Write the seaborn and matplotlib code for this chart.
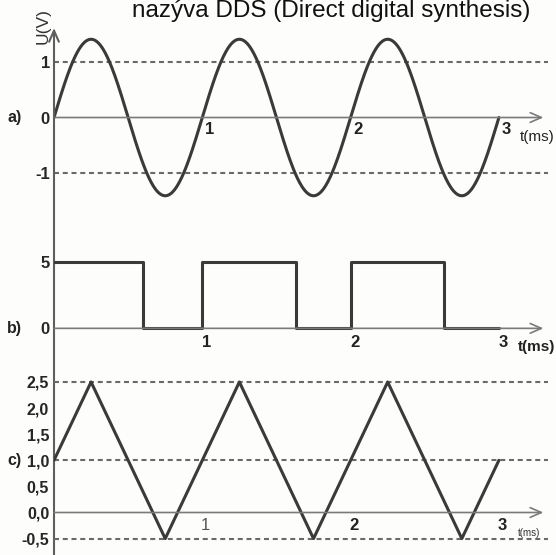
import numpy as np
import pandas as pd
import matplotlib
matplotlib.use("Agg")
import matplotlib.pyplot as plt
import seaborn as sns

sns.set_style("white")
plt.rcParams["font.family"] = ["Liberation Sans", "DejaVu Sans"]

# a) sine voltage: 1 ms period, peak about 1.41 V, shown from 0 to 3 ms
sine_amplitude = 1.41
sine_period_ms = 1.0
sine_duration_ms = 3.0
sine_ref_levels = [1, -1]
sine_yticks = [1, 0, -1]
sine_yticklabels = ["1", "0", "-1"]

# b) rectangular signal: switching instants (ms) and levels (V)
square_t = [0.0, 0.6, 1.0, 1.63, 2.0, 2.63, 3.0]
square_u = [5, 0, 5, 0, 5, 0, 0]
square_yticks = [5, 0]
square_yticklabels = ["5", "0"]

# c) triangle signal: corner points (ms, V)
tri_t = [0.0, 0.25, 0.75, 1.25, 1.75, 2.25, 2.75, 3.0]
tri_u = [1.0, 2.5, -0.5, 2.5, -0.5, 2.5, -0.5, 1.0]
tri_ref_levels = [2.5, 1.0, -0.5]
tri_yticks = [3.0, 2.5, 2.0, 1.5, 1.0, 0.5, 0.0, -0.5]
tri_yticklabels = ["", "2,5", "2,0", "1,5", "1,0", "0,5", "0,0", "-0,5"]

time_marks = [1, 2, 3]
time_unit = "t(ms)"

BG = "#fdfdfc"
WAVE = "#3a3a3a"
AXIS = "#5e5e5e"
ZERO = "#7a7a7a"
DASH = "#6a6a6a"

fig = plt.figure(figsize=(5.56, 5.55), dpi=100, facecolor=BG)

W, H = 556, 555
left = 54 / W
width = (548 - 54) / W
ax_a = fig.add_axes([left, (H - 232) / H, width, 207 / H])
ax_b = fig.add_axes([left, (H - 355) / H, width, 123 / H])
ax_c = fig.add_axes([left, 0.0, width, 200 / H])

XMAX = 3.331
ax_a.set_ylim(-2.063, 1.667)
ax_b.set_ylim(-2.02, 7.30)
ax_c.set_ylim(-0.814, 3.017)

arrow_style = "->,head_length=0.8,head_width=0.35"

for ax in (ax_a, ax_b, ax_c):
    ax.set_facecolor("none")
    ax.set_xlim(0, XMAX)
    for sp in ax.spines.values():
        sp.set_visible(False)
    # time axis with open arrowhead
    ax.annotate("", xy=(3.30, 0), xytext=(0, 0),
                arrowprops=dict(arrowstyle=arrow_style, color=ZERO, lw=1.2,
                                shrinkA=0, shrinkB=0, mutation_scale=10),
                annotation_clip=False)

# vertical voltage axis running through all three panels
ax_a.annotate("", xy=(0, 1.613), xytext=(0, -2.063),
              arrowprops=dict(arrowstyle=arrow_style, color=AXIS, lw=1.5,
                              shrinkA=0, shrinkB=0, mutation_scale=10),
              annotation_clip=False)
for ax in (ax_b, ax_c):
    lo, hi = ax.get_ylim()
    ax.plot([0, 0], [lo, hi], color=AXIS, lw=1.5, clip_on=False,
            solid_capstyle="butt")

dash_kw = dict(color=DASH, lw=1.5, dashes=(2.4, 1.8))

# ---- a) sine ----
t_sine = np.linspace(0, sine_duration_ms, 600)
df_sine = pd.DataFrame({"t": t_sine,
                        "u": sine_amplitude * np.sin(2 * np.pi * t_sine / sine_period_ms)})
for lvl in sine_ref_levels:
    ax_a.axhline(lvl, **dash_kw)
sns.lineplot(data=df_sine, x="t", y="u", ax=ax_a, color=WAVE, lw=2.2,
             estimator=None, sort=False)
ax_a.set_yticks(sine_yticks)
ax_a.set_yticklabels(sine_yticklabels, fontsize=12, fontweight="bold")
ax_a.tick_params(axis="y", length=0, pad=3)

# ---- b) square ----
df_sq = pd.DataFrame({"t": square_t, "u": square_u})
sns.lineplot(data=df_sq, x="t", y="u", ax=ax_b, color=WAVE, lw=2.2,
             drawstyle="steps-post", estimator=None)
ax_b.set_yticks(square_yticks)
ax_b.set_yticklabels(square_yticklabels, fontsize=12, fontweight="bold")
ax_b.tick_params(axis="y", length=0, pad=3)

# ---- c) triangle ----
df_tri = pd.DataFrame({"t": tri_t, "u": tri_u})
for lvl in tri_ref_levels:
    ax_c.axhline(lvl, **dash_kw)
sns.lineplot(data=df_tri, x="t", y="u", ax=ax_c, color=WAVE, lw=2.2,
             estimator=None, sort=False)
ax_c.set_yticks(tri_yticks)
ax_c.set_yticklabels(tri_yticklabels, fontsize=11.5, fontweight="bold")
ax_c.tick_params(axis="y", length=7, width=1.2, direction="inout",
                 color=AXIS, pad=0)

for ax in (ax_a, ax_b, ax_c):
    ax.set_xticks([])
    ax.set_xlabel("")
    ax.set_ylabel("")

# time labels next to the axis crossings
for m in time_marks:
    ax_a.text(m + 0.05, -0.225, str(m), fontsize=12, fontweight="bold",
              ha="center", va="center", color="#222")
    ax_b.text(m + 0.03, -1.04, str(m), fontsize=12, fontweight="bold",
              ha="center", va="center", color="#222")
    ax_c.text(m + 0.02, -0.24, str(m), fontsize=12,
              fontweight="bold" if m > 1 else "normal",
              ha="center", va="center", color="#222" if m > 1 else "#555")
ax_a.text(3.14, -0.35, time_unit, fontsize=11, ha="left", va="center", color="#222")
ax_b.text(3.13, -1.42, time_unit, fontsize=11, fontweight="bold",
          ha="left", va="center", color="#222")
ax_c.text(3.13, -0.39, time_unit, fontsize=7, ha="left", va="center", color="#333")

# panel letters
for ax, yv, lab in ((ax_a, 0, "a)"), (ax_b, 0, "b)"), (ax_c, 1.0, "c)")):
    ax.text(-0.265, yv, lab, fontsize=11.5, fontweight="bold", ha="center",
            va="center", color="#222", clip_on=False)

# axis name
fig.text(43 / W, (H - 26) / H, "U(V)", rotation=90, fontsize=12.5,
         ha="center", va="center", color="#333")

# running heading at the top of the page
fig.text(331 / W, (H - 17) / H, "nazýva DDS (Direct digital synthesis)",
         fontsize=17.5, ha="center", va="baseline", color="#111")

fig.savefig("out.png", dpi=100, facecolor=BG)
